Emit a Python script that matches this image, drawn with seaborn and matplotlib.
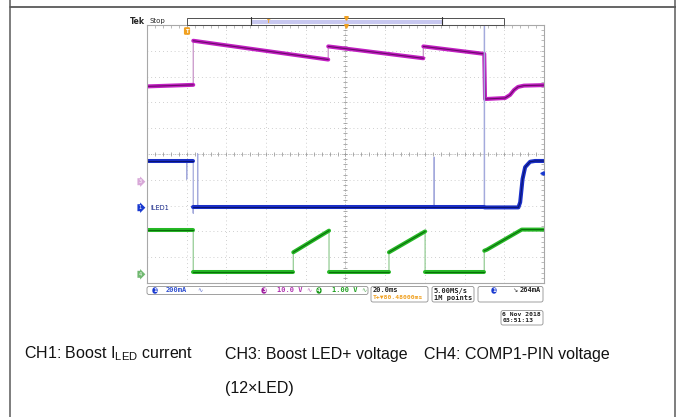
"""Scope capture: boost LED current, LED+ voltage and COMP1 pin voltage."""

import matplotlib
matplotlib.use("Agg")
import matplotlib.pyplot as plt
from matplotlib.patches import FancyBboxPatch, Rectangle
import seaborn as sns
import pandas as pd
import numpy as np

# time axis in ms (20 ms/div, 10 div), trace levels in screen divisions
ch3_t = [0, 23.3, 23.3, 91.3, 91.3, 139.2, 139.2, 169.9, 170.3, 180.4, 182.9, 184.9, 186.9, 189.9, 200]
ch3_v = [2.62, 2.68, 4.39, 3.66, 4.17, 3.71, 4.17, 3.88, 2.13, 2.17, 2.29, 2.48, 2.60, 2.65, 2.67]

ch1_t = [0, 20.0, 20.0, 20.0, 23.3, 23.3, 23.3, 25.5, 25.5, 25.5, 144.7, 144.7, 144.7,
         170.0, 170.0, 170.0, 187.1, 188.0, 189.2, 190.5, 193.0, 195.5, 200]
ch1_v = [-0.27, -0.27, -0.97, -0.27, -0.27, -2.29, -2.07, -2.07, 0.0, -2.07, -2.07, -0.13, -2.07,
         -2.07, 5.0, -2.07, -2.07, -1.87, -0.97, -0.51, -0.30, -0.27, -0.27]

ch4_t = [0, 23.3, 23.3, 73.7, 73.7, 91.7, 91.7, 121.9, 121.9, 140.1, 140.1, 169.9, 169.9, 171.2, 188.8, 200]
ch4_v = [-2.95, -2.95, -4.59, -4.59, -3.81, -2.97, -4.59, -4.59, -3.81, -3.00, -4.59, -4.59, -3.75, -3.71, -2.93, -2.93]

channels = [
    # t, v, thin edge colour, band colour, core colour
    (ch3_t, ch3_v, "#c894c8", "#c21fc2", "#6a0a6a"),
    (ch1_t, ch1_v, "#a4aadc", "#1a2fc8", "#0a1470"),
    (ch4_t, ch4_v, "#94cc94", "#26b826", "#0a6e0a"),
]

caption_1 = "CH1: Boost I$_{\\mathrm{LED}}$ current"
caption_3 = "CH3: Boost LED+ voltage"
caption_3b = "(12×LED)"
caption_4 = "CH4: COMP1-PIN voltage"

sns.set_style("white")
plt.rcParams["font.family"] = ["DejaVu Sans"]
plt.rcParams["mathtext.fontset"] = "custom"
plt.rcParams["mathtext.rm"] = "Liberation Sans"

W, H = 676, 417
fig = plt.figure(figsize=(W / 100, H / 100), dpi=100)

# scope graticule
x0, x1, y0, y1 = 147, 544, 25, 283
ax = fig.add_axes([x0 / W, 1 - y1 / H, (x1 - x0) / W, (y1 - y0) / H])
ax.set_xticks(np.arange(0, 201, 20))
ax.set_yticks(np.arange(-5, 6, 1))
ax.set_xticks(np.arange(0, 201, 4), minor=True)
ax.set_yticks(np.arange(-5, 5.01, 0.2), minor=True)
ax.tick_params(which="both", direction="in", length=2.5, width=0.5, color="#a0a0a0",
               top=True, right=True, labelbottom=False, labelleft=False)
ax.grid(True, which="major", color="#bcbcbc", linestyle=(0, (0.7, 3.3)), lw=0.7)
for s in ax.spines.values():
    s.set_color("#a8a8a8")
    s.set_linewidth(0.8)

# centre crosshair ticks
mx = np.arange(0, 201, 4)
my = np.arange(-5, 5.01, 0.2)
ax.plot(mx, np.zeros_like(mx), ls="", marker="|", ms=3.5, mew=0.5, color="#8c8c8c")
ax.plot(np.full_like(my, 100), my, ls="", marker="_", ms=3.5, mew=0.5, color="#8c8c8c")
ax.axhline(0, color="#a0a0a0", lw=0.6, ls=(0, (0.7, 1.5)))
ax.axvline(100, color="#a0a0a0", lw=0.6, ls=(0, (0.7, 1.5)))

for t, v, c_edge, c_band, c_core in channels:
    df = pd.DataFrame({"t": t, "v": v})
    df["one"] = 0
    # full path thin (fast edges show dim)
    sns.lineplot(data=df, x="t", y="v", units="one", estimator=None, sort=False,
                 color=c_edge, lw=0.9, ax=ax)
    # thick band only on the slow parts: break at vertical edges / spikes
    dt = np.diff(df["t"].to_numpy(), prepend=-1.0)
    df["seg"] = np.cumsum(dt == 0)
    keep = df.groupby("seg")["t"].transform("size") > 1
    thick = df[keep]
    sns.lineplot(data=thick, x="t", y="v", units="seg", estimator=None, sort=False,
                 color=c_band, lw=2.9, ax=ax)
    sns.lineplot(data=thick, x="t", y="v", units="seg", estimator=None, sort=False,
                 color=c_core, lw=0.8, ax=ax)
ax.set_xlim(0, 200)
ax.set_ylim(-5, 5)
ax.set_xlabel("")
ax.set_ylabel("")

# overlay in pixel coordinates
ov = fig.add_axes([0, 0, 1, 1])
ov.set_xlim(0, W)
ov.set_ylim(H, 0)
ov.axis("off")

# page table frame
ov.plot([9.5, 676], [7, 7], color="#3c3c3c", lw=1.1)
ov.plot([9.5, 9.5], [0, H], color="#5a5a5a", lw=1.1)
ov.plot([675, 675], [0, H], color="#5a5a5a", lw=1.1)

# header
ov.text(130, 21, "Tek", fontsize=5.6, fontweight="bold", va="center", ha="left")
ov.text(149, 21, "Stop", fontsize=5.0, va="center", ha="left")
ov.add_patch(Rectangle((187, 18), 317, 6.5, fill=False, ec="#505050", lw=0.7))
ov.add_patch(Rectangle((251, 20), 191, 3.5, fc="#c8c8f0", ec="none"))
ov.plot([251, 251], [17, 25], color="#303030", lw=0.8)
ov.plot([442, 442], [17, 25], color="#303030", lw=0.8)
ov.plot([346], [17.5], marker="v", ms=2.6, color="#f0a020", ls="")
ov.plot([346], [25.5], marker="v", ms=2.6, color="#f0a020", ls="")
ov.text(269, 21.5, "T", fontsize=3.5, color="#f0a020", ha="center", va="center", fontweight="bold")
ov.text(187, 31, "T", fontsize=3.8, color="white", ha="center", va="center", fontweight="bold",
        bbox=dict(boxstyle="round,pad=0.25", fc="#f0a020", ec="none"))

# channel ground markers
for y, label, fc in [(181.7, "3", "#d8a8d8"), (207.7, "1", "#1a3ad0"), (274.3, "4", "#70b870")]:
    ov.text(140, y, label, fontsize=3.6, color="white", ha="center", va="center",
            bbox=dict(boxstyle="rarrow,pad=0.2", fc=fc, ec="none"))
ov.text(150, 207.7, "ILED1", fontsize=4.8, color="#1a2a8a", ha="left", va="center")
ov.plot([542], [173.3], marker="<", ms=2.5, color="#1a3ad0", ls="")

# status bar
def box(xa, ya, xb, yb):
    ov.add_patch(FancyBboxPatch((xa, ya), xb - xa, yb - ya, boxstyle="round,pad=0,rounding_size=2",
                                fill=False, ec="#909090", lw=0.6))

def oval(x, y, label, fc):
    ov.text(x, y, label, fontsize=3.8, color="white", ha="center", va="center", fontweight="bold",
            bbox=dict(boxstyle="round,pad=0.15,rounding_size=0.6", fc=fc, ec="none"))

mono = dict(family="DejaVu Sans Mono", fontsize=5.0, fontweight="bold", va="center", ha="left")
box(147, 286.5, 368, 294.5)
oval(155, 290.5, "1", "#1a3ad0")
ov.text(166, 290.5, "200mA", color="#3050d0", **mono)
ov.text(197, 290.5, "∿", color="#6070d0", fontsize=4.5, va="center")
oval(264, 290.5, "3", "#a020a0")
ov.text(277, 290.5, "10.0 V", color="#b030b0", **mono)
ov.text(306, 290.5, "∿", color="#c070c0", fontsize=4.5, va="center")
oval(319, 290.5, "4", "#1a9a1a")
ov.text(332, 290.5, "1.00 V", color="#20a020", **mono)
ov.text(361, 290.5, "∿", color="#60b060", fontsize=4.5, va="center")

box(371, 286.5, 428, 302)
ov.text(373, 290.5, "20.0ms", color="#202020", **mono)
ov.text(373, 297.5, "T+▼80.48000ms", color="#f0a020", **{**mono, "fontsize": 4.6})

box(432, 286.5, 474, 302)
ov.text(434, 290.5, "5.00MS/s", color="#202020", **mono)
ov.text(434, 297.5, "1M points", color="#202020", **mono)

box(478, 286.5, 543, 302)
oval(494, 290.5, "1", "#1a3ad0")
ov.text(515, 290.5, "↘", color="#303030", fontsize=4.5, ha="center", va="center")
ov.text(541, 290.5, "264mA", color="#202020", **{**mono, "ha": "right"})

box(501, 310.5, 543, 325)
ov.text(541, 314, "6 Nov 2018", color="#202020", **{**mono, "ha": "right", "fontsize": 4.6})
ov.text(503, 321, "03:51:13", color="#202020", **{**mono, "fontsize": 4.6})

# caption
cap = dict(family="Liberation Sans", fontsize=11.5, color="#111111", va="center", ha="left")
ov.text(24, 354, caption_1, **cap)
ov.text(225, 354, caption_3, **cap)
ov.text(424, 354, caption_4, **cap)
ov.text(225, 389, caption_3b, **cap)

fig.savefig("out.png", dpi=100)
plt.close(fig)
